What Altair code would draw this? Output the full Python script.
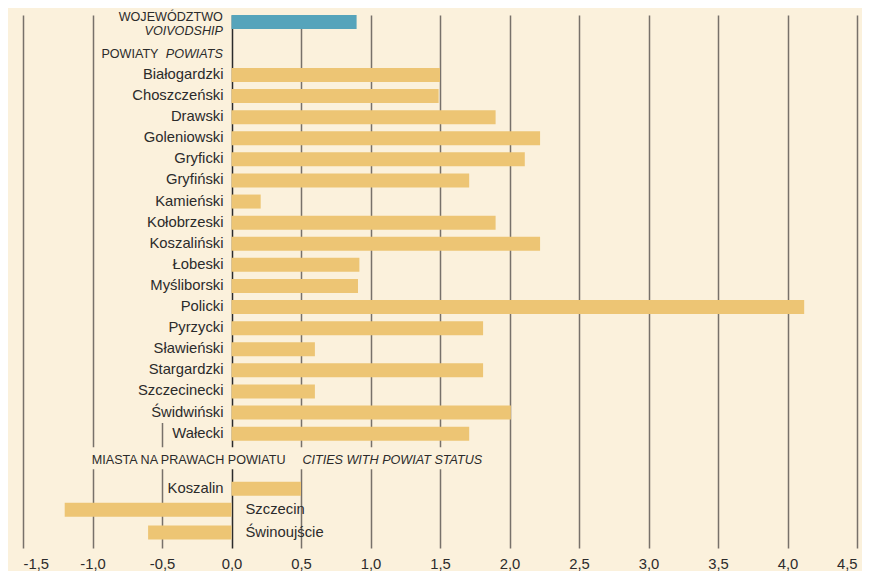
import altair as alt
import pandas as pd

# ---------------- data ----------------
voivodship_value = [0.90]
powiats = ["Białogardzki", "Choszczeński", "Drawski", "Goleniowski", "Gryficki",
           "Gryfiński", "Kamieński", "Kołobrzeski", "Koszaliński", "Łobeski",
           "Myśliborski", "Policki", "Pyrzycki", "Sławieński", "Stargardzki",
           "Szczecinecki", "Świdwiński", "Wałecki"]
powiat_values = [1.50, 1.49, 1.90, 2.22, 2.11, 1.71, 0.21, 1.90, 2.22, 0.92,
                 0.91, 4.12, 1.81, 0.60, 1.81, 0.60, 2.01, 1.71]
cities = ["Koszalin", "Szczecin", "Świnoujście"]
city_values = [0.50, -1.20, -0.60]
x_ticks = [-1.5, -1.0, -0.5, 0.0, 0.5, 1.0, 1.5, 2.0, 2.5, 3.0, 3.5, 4.0, 4.5]

# ---------------- layout (row units) ----------------
VOIV_ROW = 0.0
POWIAT_HEADER_ROW = 1.54
POWIAT_FIRST_ROW = 2.51
CITY_HEADER_ROW = 20.78
CITY_ROWS = [22.12, 23.12, 24.2]
Y_DOMAIN = [-0.332, 24.93]

BG = "#fbf1dc"
ORANGE = "#edc574"
TEAL = "#56a4bb"
TEXT = "#2b2b2b"
FONT = "Liberation Sans"

bars = pd.DataFrame(
    [{"label": "", "value": voivodship_value[0], "row": VOIV_ROW, "kind": "voiv"}]
    + [{"label": n, "value": v, "row": POWIAT_FIRST_ROW + i, "kind": "powiat"}
       for i, (n, v) in enumerate(zip(powiats, powiat_values))]
    + [{"label": n, "value": v, "row": CITY_ROWS[i], "kind": "powiat"}
       for i, (n, v) in enumerate(zip(cities, city_values))]
)

headers = pd.DataFrame([
    {"text": "WOJEWÓDZTWO", "x": -0.062, "row": -0.25, "style": "normal-right"},
    {"text": "VOIVODSHIP", "x": -0.062, "row": 0.43, "style": "italic-right"},
    {"text": "POWIATY", "x": -0.525, "row": POWIAT_HEADER_ROW, "style": "normal-right"},
    {"text": "POWIATS", "x": -0.062, "row": POWIAT_HEADER_ROW, "style": "italic-right"},
    {"text": "MIASTA NA PRAWACH POWIATU", "x": -1.005, "row": CITY_HEADER_ROW, "style": "normal-left"},
    {"text": "CITIES WITH POWIAT STATUS", "x": 0.51, "row": CITY_HEADER_ROW, "style": "italic-left"},
])

# background patches that hide the grid behind the label blocks
masks = pd.DataFrame([
    {"x": -0.96, "x2": -0.007, "row": Y_DOMAIN[0], "row2": 19.0},
    {"x": -1.06, "x2": 1.9, "row": 20.16, "row2": 21.2},
])

xscale = alt.Scale(domain=[-1.5, 4.5], nice=False, zero=False, padding=0)
yscale = alt.Scale(domain=Y_DOMAIN, reverse=True, nice=False, zero=False, padding=0)

xaxis = alt.Axis(
    values=x_ticks,
    labelExpr="replace(replace(format(datum.value, '.1f'), '.', ','), '\u2212', '-')",
    domain=False, ticks=False, grid=True,
    gridColor={"condition": {"test": "datum.value === 0", "value": "#2b2b2b"}, "value": "#77716a"},
    gridWidth=1.5,
    labelFontSize=14.8, labelColor=TEXT, labelFont=FONT, labelPadding=8,
    title=None,
)

mask_layer = alt.Chart(masks).mark_rect(color=BG).encode(
    x=alt.X("x:Q", scale=xscale, axis=xaxis),
    x2="x2:Q",
    y=alt.Y("row:Q", scale=yscale, axis=None),
    y2="row2:Q",
)

bar_layer = alt.Chart(bars).mark_bar(orient="horizontal", size=14).encode(
    x=alt.X("value:Q", scale=xscale, stack=None),
    x2=alt.datum(0),
    y=alt.Y("row:Q", scale=yscale),
    color=alt.Color("kind:N", scale=alt.Scale(domain=["voiv", "powiat"], range=[TEAL, ORANGE]), legend=None),
)

label_left = alt.Chart(bars).transform_filter(
    "datum.value >= 0 && datum.label != ''"
).mark_text(align="right", baseline="middle", dx=-8, fontSize=14.8, font=FONT, color=TEXT).encode(
    x=alt.datum(0), y=alt.Y("row:Q", scale=yscale), text="label:N"
)
label_right = alt.Chart(bars).transform_filter(
    "datum.value < 0"
).mark_text(align="left", baseline="middle", dx=14, fontSize=14.8, font=FONT, color=TEXT).encode(
    x=alt.datum(0), y=alt.Y("row:Q", scale=yscale), text="label:N"
)


def header_layer(style, align, italic):
    return alt.Chart(headers).transform_filter(
        f"datum.style == '{style}'"
    ).mark_text(align=align, baseline="middle", fontSize=12.6, font=FONT, color=TEXT,
                fontStyle="italic" if italic else "normal").encode(
        x=alt.X("x:Q", scale=xscale), y=alt.Y("row:Q", scale=yscale), text="text:N"
    )


chart = alt.layer(
    mask_layer, bar_layer, label_left, label_right,
    header_layer("normal-right", "right", False),
    header_layer("italic-right", "right", True),
    header_layer("normal-left", "left", False),
    header_layer("italic-left", "left", True),
).properties(
    width=834, height=533,
    background=BG,
    padding={"left": 15, "top": 7, "right": 5, "bottom": 23},
    autosize=alt.AutoSizeParams(type="none"),
).configure_view(stroke=None)

chart.save("out.html", embed_options={"renderer": "svg", "actions": False})
